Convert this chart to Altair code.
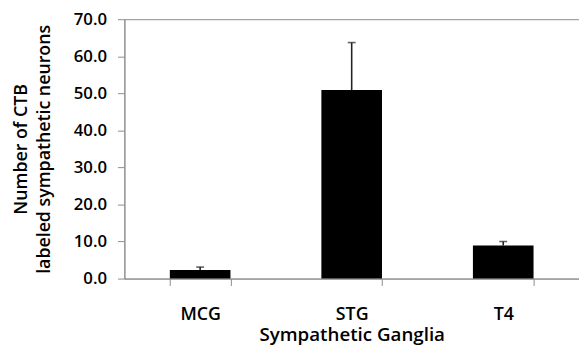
import altair as alt
import pandas as pd

categories = ["MCG", "STG", "T4"]
means = [2.3, 50.9, 8.9]
upper = [3.1, 63.7, 10.0]
y_ticks = [0, 10, 20, 30, 40, 50, 60, 70]

df = pd.DataFrame({"cat": categories, "mean": means, "upper": upper})

FONT = "Open Sans"

x_enc = alt.X(
    "cat:N",
    sort=categories,
    scale=alt.Scale(paddingInner=0.6, paddingOuter=0.3),
    axis=alt.Axis(
        title="Sympathetic Ganglia",
        labelAngle=0,
        tickBand="extent",
        tickSize=7,
        labelPadding=20,
        titlePadding=3,
        labelFontSize=18,
        titleFontSize=19,
    ),
)

y_axis = alt.Axis(
    title=["Number of CTB", "labeled sympathetic neurons"],
    values=y_ticks,
    format=".1f",
    grid=False,
    tickSize=7,
    labelPadding=11,
    labelOverlap=False,
    titlePadding=20,
    titleLineHeight=23,
    labelFontSize=17,
    titleFontSize=18,
)

base = alt.Chart(df).encode(
    x=x_enc,
    y=alt.Y("mean:Q", scale=alt.Scale(domain=[0, 70]), axis=y_axis),
)

bars = base.mark_bar(color="black")

err = base.mark_rule(color="#222222", strokeWidth=1.6).encode(y2="upper:Q")

cap = base.mark_tick(color="#222222", size=8, thickness=1.6).encode(
    y=alt.Y("upper:Q", scale=alt.Scale(domain=[0, 70]), axis=y_axis)
)

chart = (
    alt.layer(bars, err, cap)
    .properties(
        width=461,
        height=263,
        autosize=alt.AutoSizeParams(type="none"),
        padding={"left": 118, "top": 9, "right": 0, "bottom": 66},
    )
    .configure_view(stroke="#8c8c8c", strokeWidth=1)
    .configure_axis(
        domainColor="#8c8c8c",
        tickColor="#8c8c8c",
        labelColor="black",
        titleColor="black",
        labelFont=FONT,
        titleFont=FONT,
        labelFontWeight=600,
        titleFontWeight=600,
        labelOverlap=False,
    )
)

chart.save("out.html", embed_options={"renderer": "svg", "actions": False})
